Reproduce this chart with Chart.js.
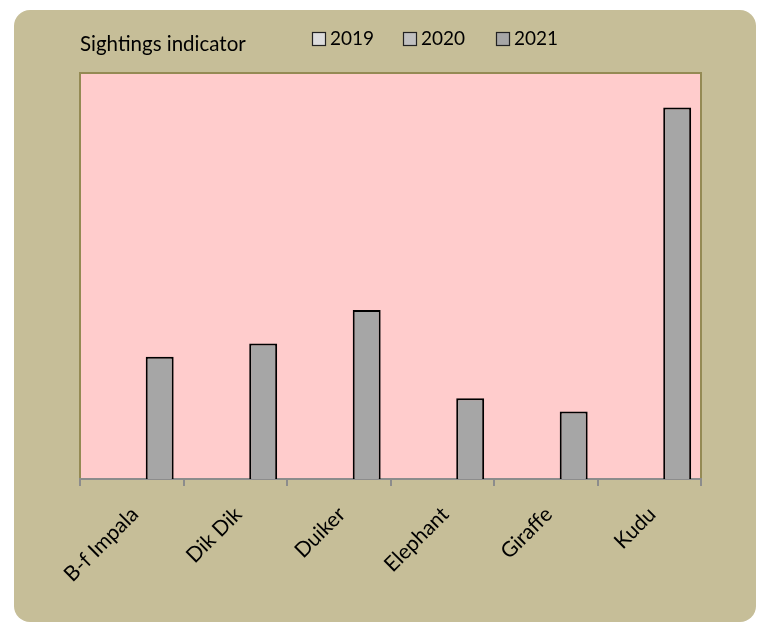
<!DOCTYPE html>
<html>
<head>
<meta charset="utf-8">
<script src="https://cdn.jsdelivr.net/npm/chart.js@4"></script>
<style>
  html, body { margin: 0; padding: 0; background: #ffffff; }
  #wrap { width: 775px; height: 624px; }
</style>
</head>
<body>
<div id="wrap"><canvas id="sightings" width="775" height="624"></canvas></div>
<script>
const animals = ['B-f Impala', 'Dik Dik', 'Duiker', 'Elephant', 'Giraffe', 'Kudu'];
const years = ['2019', '2020', '2021'];
const sightings2019 = [null, null, null, null, null, null];
const sightings2020 = [null, null, null, null, null, null];
const sightings2021 = [30.1, 33.4, 41.6, 19.9, 16.6, 91.5];
const yearColors = ['#dcdcdc', '#c0c0c0', '#a6a6a6'];

const FONT = 'Lato, "Open Sans", sans-serif';

// background box, pink plot area, title and legend
const frame = {
    id: 'frame',
    beforeDraw(chart) {
        const ctx = chart.ctx;
        const a = chart.chartArea;
        ctx.save();
        ctx.fillStyle = '#c6be98';
        ctx.beginPath();
        ctx.roundRect(14, 10, 742, 612, 16);
        ctx.fill();
        ctx.fillStyle = '#ffcccc';
        ctx.fillRect(a.left, a.top, a.right - a.left, a.bottom - a.top);
        ctx.strokeStyle = '#948a54';
        ctx.lineWidth = 2;
        ctx.beginPath();
        ctx.moveTo(a.left, a.bottom);
        ctx.lineTo(a.left, a.top);
        ctx.lineTo(a.right, a.top);
        ctx.lineTo(a.right, a.bottom);
        ctx.stroke();

        ctx.fillStyle = '#000';
        ctx.font = '20.5px ' + FONT;
        ctx.textBaseline = 'alphabetic';
        ctx.fillText('Sightings indicator', 80, 51);

        const boxX = [312, 403, 496];
        chart.data.datasets.forEach((ds, i) => {
            ctx.fillStyle = ds.backgroundColor;
            ctx.fillRect(boxX[i], 32, 13, 13);
            ctx.strokeStyle = '#222';
            ctx.lineWidth = 1.2;
            ctx.strokeRect(boxX[i] + 0.5, 32.5, 13, 13);
            ctx.fillStyle = '#000';
            ctx.font = '19px ' + FONT;
            ctx.fillText(ds.label, boxX[i] + 18, 45);
        });
        ctx.restore();
    }
};

new Chart(document.getElementById('sightings'), {
    type: 'bar',
    data: {
        labels: animals,
        datasets: [
            { label: years[0], data: sightings2019, backgroundColor: yearColors[0] },
            { label: years[1], data: sightings2020, backgroundColor: yearColors[1] },
            { label: years[2], data: sightings2021, backgroundColor: yearColors[2] }
        ].map(d => Object.assign(d, {
            borderColor: '#000',
            borderWidth: 2,
            categoryPercentage: 0.81,
            barPercentage: 1
        }))
    },
    options: {
        responsive: false,
        animation: false,
        layout: { padding: { left: 80, right: 74, top: 73, bottom: 0 } },
        plugins: { legend: { display: false }, tooltip: { enabled: false } },
        scales: {
            y: { display: false, min: 0, max: 100 },
            x: {
                afterFit(scale) { scale.height = 145; },
                border: { color: '#8c8c8c', width: 2 },
                grid: { drawOnChartArea: false, color: '#8c8c8c', lineWidth: 2, tickLength: 7, offset: true },
                ticks: {
                    color: '#000',
                    font: { family: FONT, size: 21 },
                    minRotation: 45,
                    maxRotation: 45,
                    padding: 16,
                    labelOffset: 3
                }
            }
        }
    },
    plugins: [frame]
});
</script>
</body>
</html>
